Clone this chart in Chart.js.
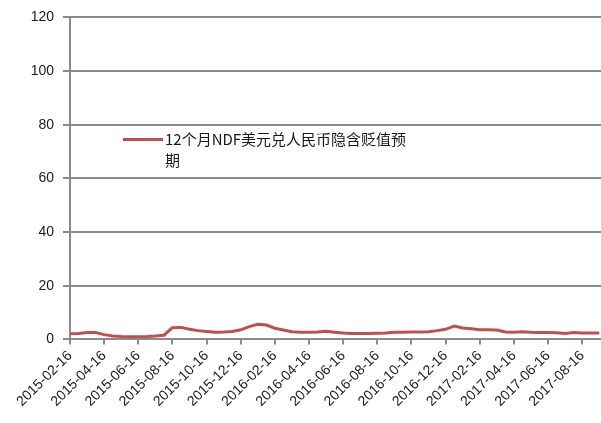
<!DOCTYPE html>
<html>
<head>
<meta charset="utf-8">
<script src="https://cdn.jsdelivr.net/npm/chart.js@4"></script>
<style>
  html, body { margin: 0; padding: 0; background: #fff; }
  #wrap { width: 601px; height: 423px; }
</style>
</head>
<body>
<div id="wrap"><canvas id="chart" width="601" height="423"></canvas></div>
<script>
// tick labels, one every 4 half-month steps
const tickLabels = [
    '2015-02-16', '2015-04-16', '2015-06-16', '2015-08-16', '2015-10-16', '2015-12-16',
    '2016-02-16', '2016-04-16', '2016-06-16', '2016-08-16', '2016-10-16', '2016-12-16',
    '2017-02-16', '2017-04-16', '2017-06-16', '2017-08-16'
];

// implied depreciation expectation, sampled about every half month from 2015-02-16
const seriesName = '12个月NDF美元兑人民币隐含贬值预期';
const depreciation = [
    2.1, 2.2, 2.6, 2.6, 1.8, 1.3, 1.1, 1.0, 1.0, 1.1,
    1.3, 1.6, 4.4, 4.5, 3.8, 3.3, 3.0, 2.7, 2.8, 3.0,
    3.6, 4.8, 5.7, 5.4, 4.2, 3.5, 2.9, 2.7, 2.7, 2.8,
    3.1, 2.7, 2.4, 2.2, 2.2, 2.2, 2.3, 2.4, 2.7, 2.7,
    2.8, 2.8, 2.9, 3.3, 3.8, 5.0, 4.3, 4.0, 3.6, 3.6,
    3.5, 2.8, 2.7, 2.9, 2.7, 2.6, 2.6, 2.5, 2.2, 2.6,
    2.4, 2.4, 2.4
];

const yTicks = [0, 20, 40, 60, 80, 100, 120];

const lineColor = '#C0504D';
const gridColor = '#8c8c8c';
const textFont = "'Liberation Sans', Arial, sans-serif";

// legend drawn inside the plot, wrapping onto two lines like the original
const insideLegend = {
    id: 'insideLegend',
    afterDraw(chart) {
        const ctx = chart.ctx;
        const area = chart.chartArea;
        const x0 = area.left + 53;
        const y0 = area.top + 122;
        ctx.save();
        ctx.strokeStyle = lineColor;
        ctx.lineWidth = 3;
        ctx.beginPath();
        ctx.moveTo(x0, y0);
        ctx.lineTo(x0 + 40, y0);
        ctx.stroke();
        ctx.fillStyle = '#1a1a1a';
        ctx.font = "15px 'Noto Sans CJK SC', sans-serif";
        ctx.textBaseline = 'middle';
        ctx.fillText(seriesName.slice(0, -1), x0 + 42, y0);
        ctx.fillText(seriesName.slice(-1), x0 + 42, y0 + 21);
        ctx.restore();
    }
};

new Chart(document.getElementById('chart').getContext('2d'), {
    type: 'line',
    data: {
        datasets: [{
            label: seriesName,
            data: depreciation.map((v, i) => ({ x: i, y: v })),
            borderColor: lineColor,
            backgroundColor: lineColor,
            borderWidth: 3,
            pointRadius: 0,
            tension: 0,
            fill: false
        }]
    },
    options: {
        responsive: false,
        animation: false,
        layout: { padding: { top: 10, right: 0, left: 0, bottom: 10 } },
        plugins: {
            legend: { display: false },
            tooltip: { enabled: false }
        },
        scales: {
            x: {
                type: 'linear',
                min: 0,
                max: 62.2,
                grid: { drawOnChartArea: false, drawTicks: true, tickLength: 5, color: gridColor, lineWidth: 2 },
                border: { color: gridColor, width: 2 },
                ticks: {
                    stepSize: 4,
                    includeBounds: false,
                    autoSkip: false,
                    maxRotation: 45,
                    minRotation: 45,
                    color: '#1a1a1a',
                    font: { family: textFont, size: 14 },
                    callback: (v) => (v % 4 === 0 && tickLabels[v / 4]) ? tickLabels[v / 4] : null
                }
            },
            y: {
                min: 0,
                max: 120,
                afterBuildTicks: (axis) => { axis.ticks = yTicks.map(v => ({ value: v })); },
                afterFit: (axis) => { axis.width = 70; },
                grid: { color: gridColor, lineWidth: 2, tickLength: 7 },
                border: { color: gridColor, width: 2 },
                ticks: {
                    padding: 9,
                    color: '#1a1a1a',
                    font: { family: textFont, size: 14 }
                }
            }
        }
    },
    plugins: [insideLegend]
});
</script>
</body>
</html>
